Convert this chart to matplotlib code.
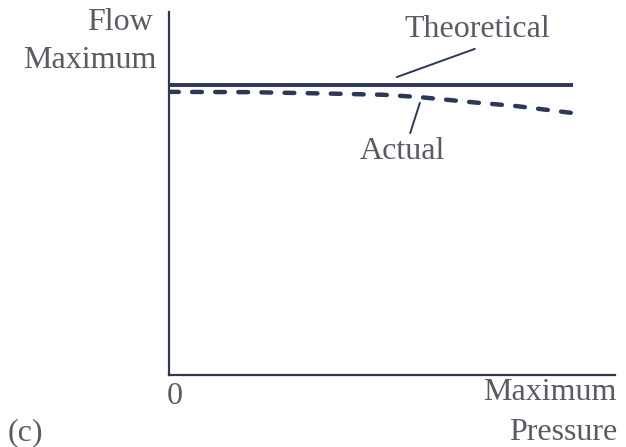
import matplotlib
matplotlib.use("Agg")
import matplotlib.pyplot as plt

# Data (normalized units)
pressure_theoretical = [0.0, 1.0]
flow_theoretical = [1.0, 1.0]
pressure_actual = [0.0, 0.2, 0.4, 0.53, 0.62, 0.745, 0.86, 1.0]
flow_actual = [0.975, 0.974, 0.969, 0.965, 0.957, 0.940, 0.926, 0.902]

line_color = "#2c3857"
text_color = "#5a5a64"
font = "Liberation Serif"
fs = 23

W, H = 626, 447
fig = plt.figure(figsize=(W / 100, H / 100), dpi=100)
ax_left, ax_right, ax_top, ax_bottom = 169, 615, 12, 375
ax = fig.add_axes([ax_left / W, 1 - ax_bottom / H, (ax_right - ax_left) / W, (ax_bottom - ax_top) / H])
ax.set_xlim(0, 1.104)
ax.set_ylim(0, 1.25)
for s in ["top", "right"]:
    ax.spines[s].set_visible(False)
for s in ["left", "bottom"]:
    ax.spines[s].set_color(line_color)
    ax.spines[s].set_linewidth(1.6)
ax.set_xticks([])
ax.set_yticks([])

ax.plot(pressure_theoretical, flow_theoretical, color=line_color, lw=2.8, solid_capstyle="butt")
ax.plot(pressure_actual, flow_actual, color=line_color, lw=3.2, dashes=(2.2, 3.0), dash_capstyle="round")

# leader lines
ax.annotate("", xy=(0.564, 1.026), xytext=(0.757, 1.123),
            arrowprops=dict(arrowstyle="-", color=line_color, lw=1.4, shrinkA=0, shrinkB=0))
ax.annotate("", xy=(0.621, 0.937), xytext=(0.597, 0.833),
            arrowprops=dict(arrowstyle="-", color=line_color, lw=1.4, shrinkA=0, shrinkB=0))
ax.text(0.762, 1.19, "Theoretical", ha="center", va="center", fontsize=fs, family=font, color=text_color)
ax.text(0.579, 0.768, "Actual", ha="center", va="center", fontsize=fs, family=font, color=text_color)

def ftext(x, y, s, ha):
    fig.text(x / W, 1 - y / H, s, ha=ha, va="center", fontsize=fs, family=font, color=text_color)

ftext(153, 23, "Flow", "right")
ftext(157, 61, "Maximum", "right")
ftext(175, 397, "0", "center")
ftext(617, 393, "Maximum", "right")
ftext(617, 433, "Pressure", "right")
ftext(25, 433, "(c)", "center")

fig.savefig("out.png", dpi=100)
